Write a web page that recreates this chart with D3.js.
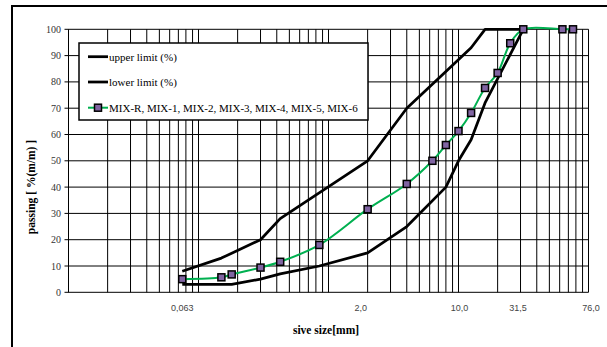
<!DOCTYPE html>
<html>
<head>
<meta charset="utf-8">
<script src="https://cdn.jsdelivr.net/npm/d3@7"></script>
<style>
  html, body { margin: 0; padding: 0; background: #fff; }
  svg { display: block; }
</style>
</head>
<body>
<svg id="chart" width="607" height="347"></svg>
<script>
// ---- data ----
const sieveSizes = [0.075, 0.15, 0.18, 0.3, 0.425, 0.85, 2.0, 4.0, 6.3, 8, 10, 12.5, 16, 20, 25, 31.5, 63, 76];
const mixPassing = [5, 5.7, 6.8, 9.4, 11.6, 18, 31.6, 41.2, 50, 56, 61.3, 68.2, 77.7, 83.4, 94.7, 100, 100, 100];

const upperSizes = [0.075, 0.15, 0.3, 0.425, 2, 4, 8, 12.5, 16, 31.5];
const upperPassing = [8, 13, 20, 28, 50, 70, 84, 93, 100, 100];

const lowerSizes = [0.075, 0.18, 0.3, 0.425, 0.85, 2, 4, 8, 10, 12.5, 16, 31.5];
const lowerPassing = [3, 3, 5, 7, 10, 15, 25, 40, 50, 58, 72, 100];

const xTickLabels = ["0,063", "2,0", "10,0", "31,5", "76,0"];
const xTickAt = [0.075, 1.77, 10.2, 28.7, 104.5];
const yTicks = [0, 10, 20, 30, 40, 50, 60, 70, 80, 90, 100];

const legendLabels = ["upper limit (%)", "lower limit (%)", "MIX-R, MIX-1, MIX-2, MIX-3, MIX-4, MIX-5, MIX-6"];

// ---- layout ----
const svg = d3.select("#chart");
const x = d3.scaleLog().domain([0.01, 100]).range([68.5, 588.5]);
const y = d3.scaleLinear().domain([0, 100]).range([292.3, 29.3]);

// chart area border
svg.append("rect").attr("x", 12).attr("y", 6).attr("width", 640).attr("height", 400)
  .attr("fill", "#fff").attr("stroke", "#000").attr("stroke-width", 2);

// gridlines
const vGrid = [];
for (let e = -2; e <= 1; e++) for (let k = 1; k <= 9; k++) vGrid.push(k * Math.pow(10, e));
vGrid.push(100);
svg.append("g").selectAll("line").data(vGrid).join("line")
  .attr("x1", d => x(d)).attr("x2", d => x(d))
  .attr("y1", y(0)).attr("y2", y(100))
  .attr("stroke", "#000").attr("stroke-width", 1);

svg.append("g").selectAll("line").data(yTicks).join("line")
  .attr("x1", x(0.01) - 4).attr("x2", x(100))
  .attr("y1", d => y(d)).attr("y2", d => y(d))
  .attr("stroke", "#000").attr("stroke-width", 1);

// y tick labels
svg.append("g").selectAll("text").data(yTicks).join("text")
  .attr("x", 61).attr("y", d => y(d) + 3.5)
  .attr("text-anchor", "end")
  .attr("font-family", "Liberation Serif, serif").attr("font-size", 10)
  .attr("fill", "#333")
  .text(d => d);

// x tick labels
svg.append("g").selectAll("text").data(xTickLabels).join("text")
  .attr("x", (d, i) => x(xTickAt[i])).attr("y", 311)
  .attr("text-anchor", "middle")
  .attr("font-family", "Liberation Sans, sans-serif").attr("font-size", 9)
  .attr("fill", "#444")
  .text(d => d);

// axis titles
svg.append("text").attr("x", 326).attr("y", 334)
  .attr("text-anchor", "middle")
  .attr("font-family", "Liberation Serif, serif").attr("font-size", 11.5).attr("font-weight", "bold")
  .text("sive size[mm]");
svg.append("text").attr("transform", "translate(35,187) rotate(-90)")
  .attr("text-anchor", "middle")
  .attr("font-family", "Liberation Serif, serif").attr("font-size", 11.5).attr("font-weight", "bold")
  .text("passing [ %(m/m) ]");

// series
const linePlain = d3.line().x(d => x(d[0])).y(d => y(d[1]));
const lineSmooth = d3.line().x(d => x(d[0])).y(d => y(d[1])).curve(d3.curveCatmullRom.alpha(0.5));

svg.append("path").datum(d3.zip(upperSizes, upperPassing))
  .attr("d", linePlain).attr("fill", "none").attr("stroke", "#000").attr("stroke-width", 2.75)
  .attr("stroke-linejoin", "round");
svg.append("path").datum(d3.zip(lowerSizes, lowerPassing))
  .attr("d", linePlain).attr("fill", "none").attr("stroke", "#000").attr("stroke-width", 2.75)
  .attr("stroke-linejoin", "round");
svg.append("path").datum(d3.zip(sieveSizes, mixPassing))
  .attr("d", lineSmooth).attr("fill", "none").attr("stroke", "#00B050").attr("stroke-width", 2);

svg.append("g").selectAll("rect").data(d3.zip(sieveSizes, mixPassing)).join("rect")
  .attr("x", d => x(d[0]) - 3.5).attr("y", d => y(d[1]) - 3.5)
  .attr("width", 7).attr("height", 7)
  .attr("fill", "#8064A2").attr("stroke", "#000").attr("stroke-width", 1.5);

// legend
const lg = svg.append("g");
lg.append("rect").attr("x", 79).attr("y", 43).attr("width", 289).attr("height", 77)
  .attr("fill", "#fff").attr("stroke", "#000").attr("stroke-width", 1.5);
const rowsY = [56.7, 82, 107.7];
legendLabels.forEach((lab, i) => {
  const yy = rowsY[i];
  lg.append("line").attr("x1", 88).attr("x2", 108).attr("y1", yy).attr("y2", yy)
    .attr("stroke", i < 2 ? "#000" : "#00B050").attr("stroke-width", i < 2 ? 2.75 : 2);
  if (i === 2) {
    lg.append("rect").attr("x", 98 - 3.5).attr("y", yy - 3.5).attr("width", 7).attr("height", 7)
      .attr("fill", "#8064A2").attr("stroke", "#000").attr("stroke-width", 1.5);
  }
  lg.append("text").attr("x", 109).attr("y", yy + 4)
    .attr("font-family", "Liberation Serif, serif").attr("font-size", 11)
    .attr("fill", "#000")
    .text(lab);
});
</script>
</body>
</html>
